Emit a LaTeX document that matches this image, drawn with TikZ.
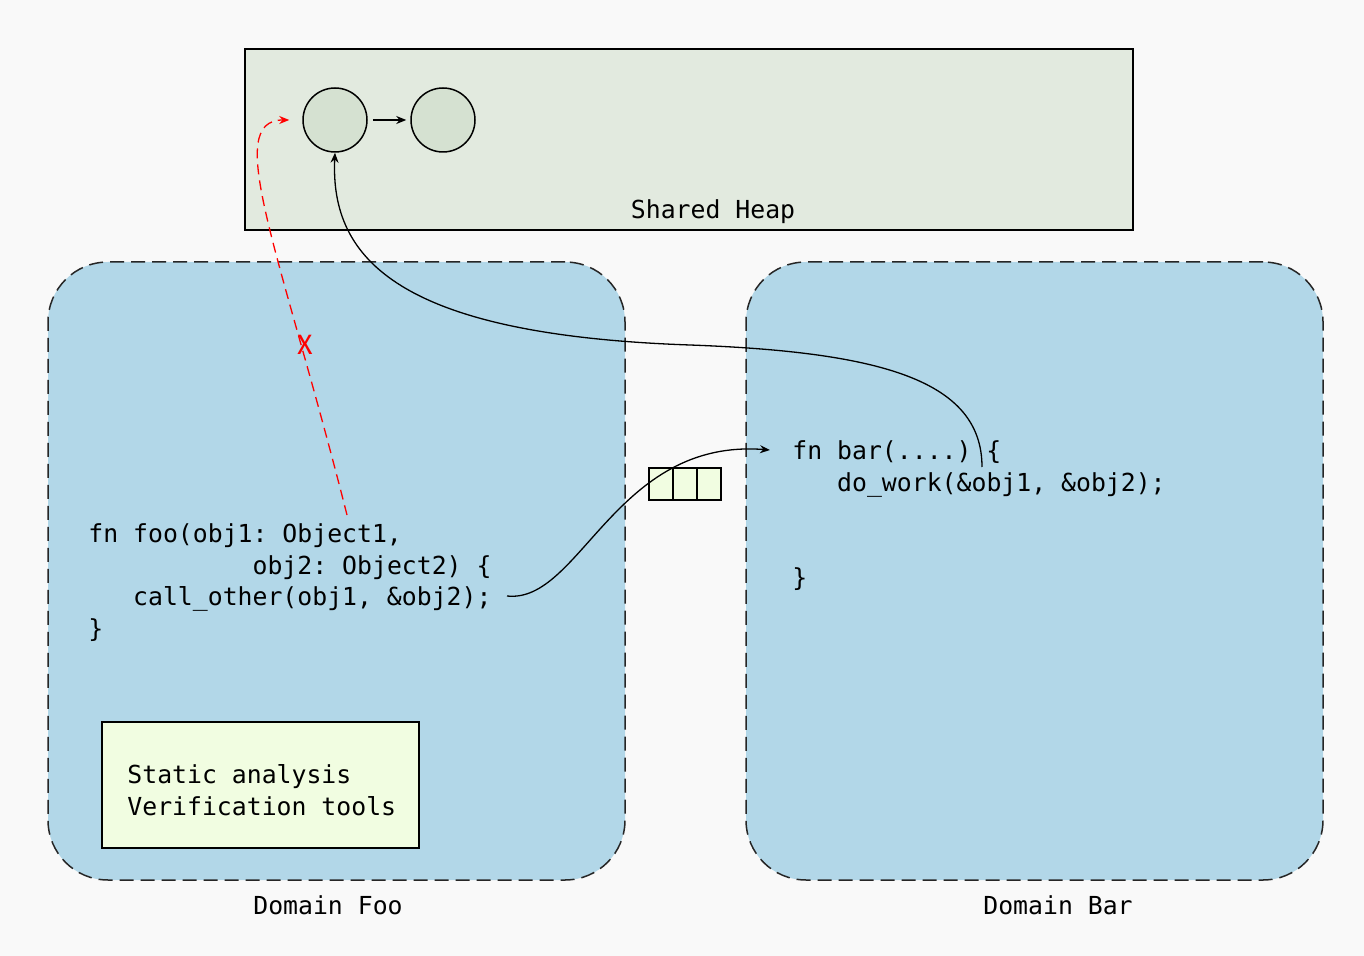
\documentclass[tikz,border=0pt]{standalone}
\usepackage{fontspec}
\setmonofont{DejaVu Sans Mono}
\setsansfont{Fira Sans}
\usetikzlibrary{matrix}
\usetikzlibrary{calc, arrows.meta, backgrounds}

\definecolor{pagebg}{HTML}{F9F9F9}
\definecolor{heapfill}{HTML}{E2EADF}
\definecolor{objfill}{HTML}{D5E1D1}
\definecolor{domfill}{HTML}{B2D7E8}
\definecolor{toolfill}{HTML}{F1FDE1}

\tikzset{
  mono/.style={font=\ttfamily\fontsize{12.4}{15.9}\selectfont},
  code/.style={mono, align=left, inner sep=0pt},
  domainbox/.style={draw=black!85, dash pattern=on 7pt off 3.5pt, fill=domfill,
    rounded corners=30pt, line width=0.75pt, minimum width=288.5pt, minimum height=309pt},
  heapbox/.style={draw, fill=heapfill, line width=0.75pt, minimum width=444pt, minimum height=90.5pt},
  obj/.style={circle, draw, fill=objfill, minimum size=32pt, inner sep=0pt, line width=0.75pt},
  link/.style={-{Stealth[length=5pt,width=4pt]}, line width=0.65pt},
  cell/.style={draw, fill=toolfill, minimum width=12pt, minimum height=16pt, inner sep=0pt, line width=0.75pt},
}

\begin{document}
\begin{tikzpicture}[x=0.5pt, y=-0.5pt]
    \fill[pagebg] (0,0) rectangle (1364,956);

    % the shared heap
    \node[heapbox] (heap) at (689,139.5) {};
    \node[mono] (heaplabel) at (713,212) {Shared Heap};
    \node[obj] (objA) at (335,120) {};
    \node[obj] (objB) at (443,120) {};
    \draw[link, shorten <=2.5pt, shorten >=2pt] (objA) -- (objB);

    % the two domains
    \node[domainbox] (foo) at (336.5,571) {};
    \node[domainbox] (bar) at (1034.5,571) {};
    \node[mono] (foolabel) at (328,905) {Domain Foo};
    \node[mono] (barlabel) at (1058,905) {Domain Bar};

    \node[code, anchor=north west] (foocode) at (88,523)
      {fn foo(obj1: Object1,\\
       \hphantom{fn foo(obj1}obj2: Object2) \{\\
       \hphantom{xxx}call\_other(obj1, \&obj2);\\
       \}};
    \node[code, anchor=north west] (barcode) at (792,440)
      {fn bar(....) \{\\
       \hphantom{xxx}do\_work(\&obj1, \&obj2);\\
       \mbox{}\\
       \mbox{}\\
       \}};

    \node[draw, fill=toolfill, line width=0.75pt, minimum width=158.5pt, minimum height=63pt,
          inner sep=0pt] (tools) at (260.5,785) {};
    \node[code, anchor=west] (toolstext) at (127,790) {Static analysis\\Verification tools};

    % message queue between the domains
    \matrix (queue) [matrix of nodes, nodes={cell}, column sep=-0.75pt] at (685,484)
      {%
        {} & {} & {} \\
      };

    \coordinate (callout) at (507,596);
    \coordinate (barin) at (770,450);
    \coordinate (workref) at (982,467);
    \coordinate (fooref) at (347,515);

    \draw[link] (callout) .. controls (580,604) and (615,438) .. (barin);
    \draw[link] (workref) .. controls (982,380) and (880,352) .. (690,345)
                          .. controls (400,335) and (330,260) .. (objA.south);
    % the forbidden reference
    \draw[link, red, dash pattern=on 5pt off 3pt] (fooref) .. controls (280,250) and (222,120) .. ($(objA.west)+(-13,0)$);
    \node[red, font=\sffamily\fontsize{14}{14}\selectfont] (cross) at (305,345) {X};
\end{tikzpicture}
\end{document}
